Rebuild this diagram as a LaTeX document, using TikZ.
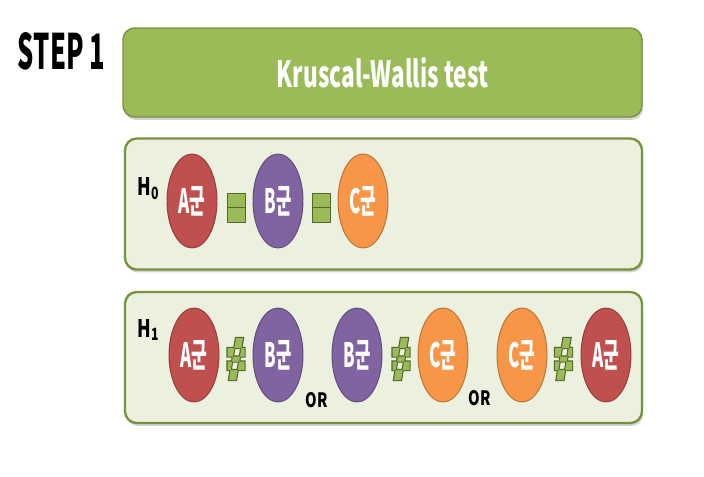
\documentclass[tikz,border=0pt]{standalone}
\usepackage{fontspec}
\setmainfont{Noto Sans CJK KR}
\usetikzlibrary{shapes.geometric,shadows}

\newdimen\px \px=0.03cm
\newcommand{\ajusta}[3]{\resizebox{#1\px}{#2\px}{#3}}

\definecolor{verde}{HTML}{9BBB59}
\definecolor{verdeosc}{HTML}{77933C}
\definecolor{fondo}{HTML}{EBF1DE}
\definecolor{rojo}{HTML}{C0504D}
\definecolor{morado}{HTML}{8064A2}
\definecolor{naranja}{HTML}{F79646}

\begin{document}
\begin{tikzpicture}[x=0.03cm,y=-0.03cm,line width=0.8pt,
  sombra/.style={drop shadow={shadow xshift=1pt,shadow yshift=-2.5pt,opacity=0.35}},
  barra/.style={draw=verdeosc,fill=verde,line width=1.2pt,rounded corners=10pt,sombra,
    minimum width=519*\px,minimum height=89*\px,text=white,inner sep=0pt,font=\bfseries},
  caja/.style={draw=verdeosc,fill=fondo,line width=2pt,rounded corners=10pt,sombra,
    minimum width=517*\px,minimum height=131*\px,inner sep=0pt},
  grupo/.style={ellipse,fill=#1,draw=#1!75!black,line width=0.8pt,
    minimum width=50*\px,minimum height=94*\px,inner sep=0pt,text=white,font=\bfseries},
  signo/.style={fill=verde,draw=verdeosc!70!black,line width=0.8pt},
  rotulo/.style={inner sep=0pt,font=\bfseries}]
  \useasboundingbox (0,0) rectangle (704,476);

  % titulo
  \node[rotulo] (paso) at (61.5,51.5) {\ajusta{87}{37}{STEP 1}};
  \node[barra] (prueba) at (382.5,72.5) {\ajusta{211}{30}{Kruscal-Wallis test}};

  % hipotesis nula
  \node[caja] (caja0) at (383.5,204) {};
  \node[rotulo,anchor=base west] (h0) at (137,195) {\ajusta{22}{18}{H\textsubscript{0}}};
  \foreach \x/\c/\lab in {192/rojo/A,278/morado/B,363/naranja/C}
    \node[grupo=\c] (n\lab) at (\x,201) {\ajusta{27}{27}{\lab 군}};
  \foreach \cx in {236,321}{
    \draw[signo] (\cx-9,193) rectangle (\cx+9,207.5);
    \draw[signo] (\cx-9,207.5) rectangle (\cx+9,222);
  }

  % hipotesis alternativa
  \node[caja] (caja1) at (383.5,357.5) {};
  \node[rotulo,anchor=base west] (h1) at (137,337) {\ajusta{22}{18}{H\textsubscript{1}}};
  \foreach \x/\c/\lab [count=\i] in {194/rojo/A,278/morado/B,357/morado/B,
      443/naranja/C,522/naranja/C,606/rojo/A}
    \node[grupo=\c] (a\i) at (\x,355) {\ajusta{27}{27}{\lab 군}};
  \foreach \cx in {236,401,563.5}{
    % contorno y luego relleno
    \draw[signo,line width=2pt] (\cx-8.5,348) rectangle (\cx+8.5,356.5)
      (\cx-8.5,361.5) rectangle (\cx+8.5,370)
      (\cx,338) -- (\cx+7,338) -- (\cx,380) -- (\cx-7,380) -- cycle;
    \fill[verde] (\cx-8.5,348) rectangle (\cx+8.5,356.5)
      (\cx-8.5,361.5) rectangle (\cx+8.5,370)
      (\cx,338) -- (\cx+7,338) -- (\cx,380) -- (\cx-7,380) -- cycle;
  }
  \node[rotulo,anchor=base west] (o1) at (305,407) {\ajusta{22}{15}{OR}};
  \node[rotulo,anchor=base west] (o2) at (468,405) {\ajusta{22}{15}{OR}};
\end{tikzpicture}
\end{document}
